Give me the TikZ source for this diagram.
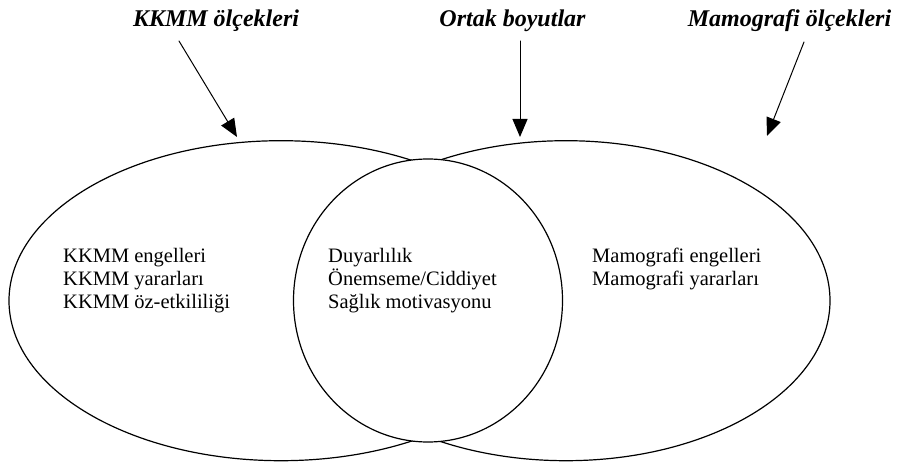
\documentclass[tikz,border=0pt]{standalone}
\usepackage{fontspec}
\setmainfont{Liberation Serif}
\usetikzlibrary{arrows.meta,shapes.geometric}
\tikzset{
  every picture/.style={line join=round, line cap=round, >={Triangle[length=18pt,width=15pt]}},
  set/.style={draw, ellipse, line width=1.2pt, inner sep=0pt, outer sep=0pt},
  heading/.style={font=\fontsize{24}{28}\selectfont\bfseries\itshape, anchor=base, inner sep=0pt},
  items/.style={font=\fontsize{20.5}{23.2}\selectfont, align=left, anchor=north west, inner sep=0pt},
  pointer/.style={->, line width=1pt},
}

\begin{document}
\begin{tikzpicture}[x=1pt,y=-1pt]
\useasboundingbox (0,0) rectangle (901,462);
% the three sets
\node[set,minimum width=544pt,minimum height=320pt] (kkmm) at (281.000,300.700) {};
\node[set,minimum width=528pt,minimum height=320pt] (mamo) at (566.000,300.700) {};
\node[set,fill=white,minimum width=269pt,minimum height=283pt] (ortak) at (428.000,300.500) {};
% headings
\node[heading] (kkmmT) at (216.000,27.000) {KKMM ölçekleri};
\node[heading] (ortakT) at (512.500,27.000) {Ortak boyutlar};
\node[heading] (mamoT) at (789.500,27.000) {Mamografi ölçekleri};
\coordinate (kkmmA) at (179.000,41.000);
\coordinate (ortakA) at (520.000,41.000);
\coordinate (mamoA) at (804.000,42.000);
\coordinate (kkmmB) at (237.000,137.000);
\coordinate (ortakB) at (520.000,137.000);
\coordinate (mamoB) at (767.000,136.000);
\draw[pointer] (kkmmA) -- (kkmmB);
\draw[pointer] (ortakA) -- (ortakB);
\draw[pointer] (mamoA) -- (mamoB);
% contents
\node[items] (kkmmL) at (63.000,248.000) {KKMM engelleri\\KKMM yararları\\KKMM öz-etkililiği};
\node[items] (ortakL) at (328.000,248.000) {Duyarlılık\\Önemseme/Ciddiyet\\Sağlık motivasyonu};
\node[items] (mamoL) at (592.000,248.000) {Mamografi engelleri\\Mamografi yararları};
\end{tikzpicture}
\end{document}
